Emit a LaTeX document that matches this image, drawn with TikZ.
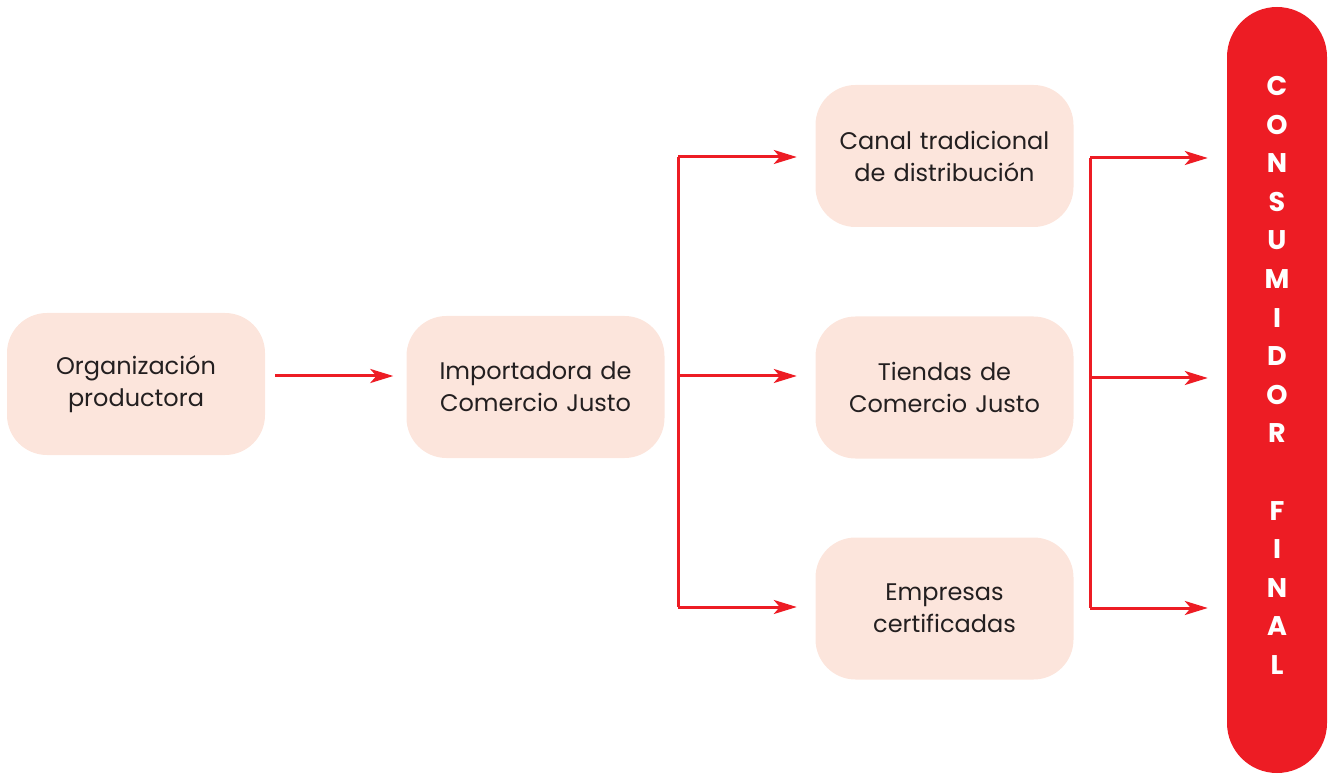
\documentclass[tikz,border=0pt]{standalone}
\usepackage{fontspec}
\setmainfont{Poppins}
\usetikzlibrary{arrows.meta}
\definecolor{boxfill}{HTML}{FCE5DC}
\definecolor{cred}{HTML}{ED1C24}
\definecolor{ctext}{HTML}{231F20}
\begin{document}
\begin{tikzpicture}[x=1pt,y=-1pt,
  box/.style={fill=boxfill, rounded corners=40pt, minimum width=258pt, minimum height=142pt,
    text width=240pt, align=center, font=\fontsize{24}{32}\selectfont, text=ctext, inner sep=0pt},
  link/.style={draw=cred, line width=3pt},
  arr/.style={link, -{Stealth[length=23pt,width=14pt,inset=6pt]}}]
\useasboundingbox (0,0) rectangle (1341,775);
\node[box] (org) at (136,384) {Organización\\productora};
\node[box] (imp) at (535.5,387) {Importadora de\\Comercio Justo};
\node[box] (can) at (944.5,156) {Canal tradicional\\de distribución};
\node[box] (tie) at (944.5,387.5) {Tiendas de\\Comercio Justo};
\node[box] (emp) at (944.5,608.5) {Empresas\\certificadas};
\node[fill=cred, rounded corners=50pt, minimum width=100pt, minimum height=766pt, inner sep=0pt] (cf) at (1277,390) {};
\node[text=white, font=\fontsize{27}{38.6}\selectfont\bfseries, align=center, inner sep=0pt] (cft) at (1277,375.5)
  {C\\O\\N\\S\\U\\M\\I\\D\\O\\R\\\mbox{}\\F\\I\\N\\A\\L};
% first arrow
\coordinate (a1) at (275,376);
\draw[arr, shorten >=13pt] (a1) -- (a1 -| imp.west);
% branch 1
\coordinate (b1t) at (678,157);
\coordinate (b1m) at (678,376);
\coordinate (b1b) at (678,607);
\draw[link] (b1t) -- (b1b);
\draw[arr, shorten >=18.5pt] (b1t) -- (b1t -| can.west);
\draw[arr, shorten >=18.5pt] (b1m) -- (b1m -| tie.west);
\draw[arr, shorten >=18.5pt] (b1b) -- (b1b -| emp.west);
% branch 2
\coordinate (b2t) at (1090,158);
\coordinate (b2m) at (1090,378);
\coordinate (b2b) at (1090,608);
\draw[link] (b2t) -- (b2b);
\draw[arr, shorten >=19pt] (b2t) -- (b2t -| cf.west);
\draw[arr, shorten >=19pt] (b2m) -- (b2m -| cf.west);
\draw[arr, shorten >=19pt] (b2b) -- (b2b -| cf.west);
\end{tikzpicture}
\end{document}
